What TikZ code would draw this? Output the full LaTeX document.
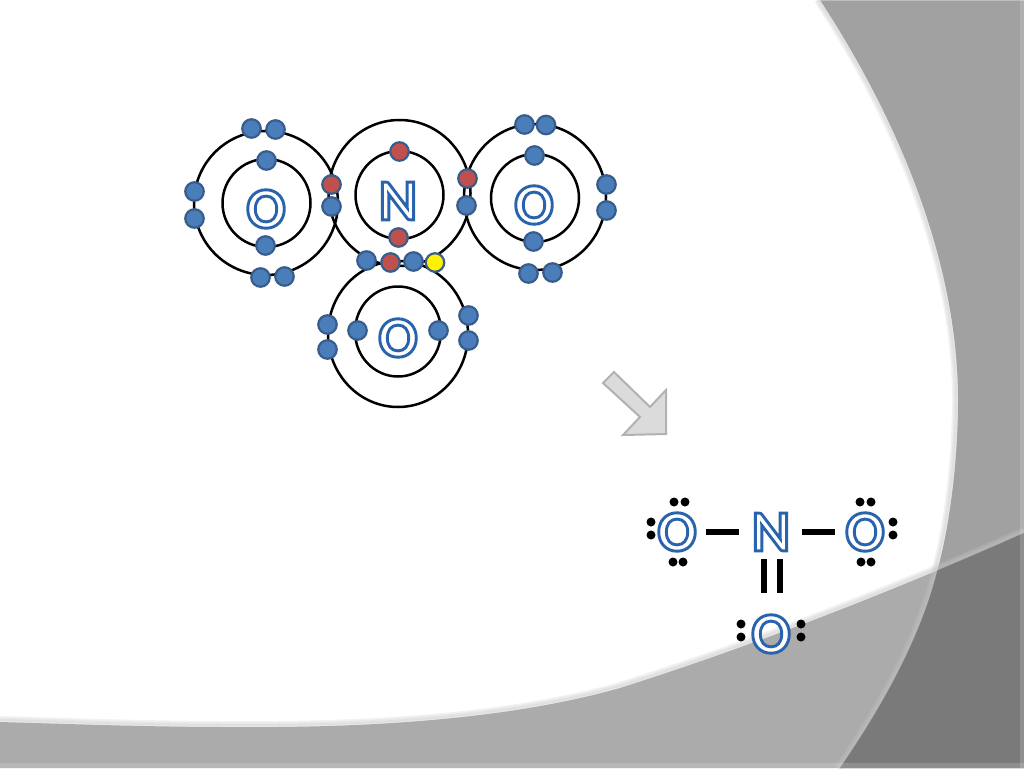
\documentclass[tikz,border=0pt]{standalone}
\usepackage{fontspec}
\setmainfont{Carlito}[BoldFont=Carlito Bold]
\definecolor{elblue}{HTML}{4A7EBB}
\definecolor{elred}{HTML}{C0504D}
\definecolor{elline}{HTML}{385D8A}
\newcommand{\outl}[1]{\special{pdf:code q 2 Tr 2.9 w 0.16 0.39 0.68 RG 1 1 1 rg}#1\special{pdf:code Q}}
\newcommand{\rightedge}{(820,0) .. controls (905,130) and (958,270) .. (958,400) .. controls (958,460) and (950,525) .. (937,572) .. controls (920,640) and (880,710) .. (840,768)}
\newcommand{\lowedge}{(1024,533) .. controls (880,597) and (740,650) .. (620,688) .. controls (500,722) and (350,728) .. (230,727) .. controls (150,727) and (70,724) .. (0,722)}
\tikzset{
  orbit/.style={draw=black,line width=2.5pt,fill=none},
  elec/.style={circle,draw=elline,line width=2.2pt,fill=elblue,minimum size=18.5pt,inner sep=0pt},
  elecr/.style={elec,fill=elred},
  elecy/.style={elec,fill=yellow},
  atomlabel/.style={inner sep=0pt,font=\fontsize{58}{58}\selectfont\bfseries},
  lone/.style={circle,fill=black,minimum size=9pt,inner sep=0pt},
  bond/.style={draw=black,line width=6pt},
  soft/.style={draw=gray!45,line width=#1,opacity=.22},
}
\begin{document}
\begin{tikzpicture}[x=1pt,y=-1pt]
\useasboundingbox (0,0) rectangle (1024,768);
% background
\fill[white] (0,0) rectangle (1024,768);
\foreach \w in {8pt,5pt,2pt}{\draw[soft=\w,yshift=2pt] \lowedge;}
\fill[black!33] \lowedge -- (0,768) -- (1024,768) -- cycle;
\foreach \w in {8pt,5pt,2pt}{\draw[soft=\w,xshift=-2pt] \rightedge;}
\fill[black!37] \rightedge -- (1024,768) -- (1024,0) -- cycle;
\begin{scope}
\clip \rightedge -- (1024,768) -- (1024,0) -- cycle;
\foreach \w in {8pt,5pt,2pt}{\draw[soft=\w,yshift=2pt] \lowedge;}
\fill[black!52] \lowedge -- (0,768) -- (1024,768) -- cycle;
\end{scope}
\fill[white,opacity=.16] (1020,0) rectangle (1024,768);
\fill[white,opacity=.16] (0,763) rectangle (1024,768);
\fill[white,opacity=.3] (820,0) rectangle (1024,1.5);
% orbits
\draw[orbit] (266,203) circle [radius=72];
\draw[orbit] (266.5,203) circle [radius=44];
\draw[orbit] (399.5,193) ellipse [x radius=71,y radius=73];
\draw[orbit] (399.5,195) circle [radius=44];
\draw[orbit] (535,197) ellipse [x radius=71,y radius=73];
\draw[orbit] (535,198) circle [radius=44];
\draw[orbit] (398,334) ellipse [x radius=70,y radius=73];
\draw[orbit] (398,331.5) ellipse [x radius=43,y radius=45];
% electrons
\foreach \n/\p/\s in {a1/{(251.5,128.5)}/elec,a2/{(275.5,129.5)}/elec,a3/{(266.5,160.5)}/elec,a4/{(265.5,245.5)}/elec,a5/{(194.5,191.5)}/elec,a6/{(194.5,218.5)}/elec,a7/{(260.5,277.5)}/elec,a8/{(284.5,276.5)}/elec,a9/{(331.5,184.5)}/elecr,a10/{(331.5,206.5)}/elec,
b1/{(399.5,151.5)}/elecr,b2/{(398.5,237.5)}/elecr,b3/{(467.5,178.5)}/elecr,b4/{(466.5,205.5)}/elec,b5/{(366.5,260.5)}/elec,b6/{(390.5,262.5)}/elecr,b7/{(413.5,261.5)}/elec,b8/{(435,262.5)}/elecy,
c1/{(524.5,124.5)}/elec,c2/{(546,125)}/elec,c3/{(534.5,155.5)}/elec,c4/{(533.5,241.5)}/elec,c5/{(606.5,184.5)}/elec,c6/{(606.5,210.5)}/elec,c7/{(528.5,273.5)}/elec,c8/{(552.5,272.5)}/elec,
d1/{(357.5,330.5)}/elec,d2/{(438.5,330.5)}/elec,d3/{(327.5,324.5)}/elec,d4/{(327.5,349.5)}/elec,d5/{(468.5,315.5)}/elec,d6/{(468.5,340.5)}/elec}
  {\node[\s] (\n) at \p {};}
% shell labels
\node[atomlabel] (sol) at (266,209) {\outl{O}};
\node[atomlabel] (snn) at (398,201) {\outl{N}};
\node[atomlabel] (sor) at (534,205) {\outl{O}};
\node[atomlabel] (sob) at (398,338) {\outl{O}};
% arrow
\draw[fill=black!14,draw=black!30,line width=2pt,line join=miter] (614,372) -- (603,383) -- (640,417) -- (623,435) -- (666,434) -- (666,390) -- (650,407) -- cycle;
% lewis
\node[atomlabel] (lol) at (677,532) {\outl{O}};
\node[atomlabel] (lnn) at (771,532) {\outl{N}};
\node[atomlabel] (lor) at (865,532) {\outl{O}};
\node[atomlabel] (lob) at (771,634) {\outl{O}};
\draw[bond,shorten <=29pt,shorten >=32pt] (lol.center) -- (lnn.center);
\draw[bond,shorten <=31pt,shorten >=30pt] (lnn.center) -- (lor.center);
\draw[bond,shorten <=27pt,shorten >=41pt] ([xshift=-7.5pt]lnn.center) -- ([xshift=-7.5pt]lob.center);
\draw[bond,shorten <=27pt,shorten >=41pt] ([xshift=9pt]lnn.center) -- ([xshift=9pt]lob.center);
\foreach \n/\p in {p1/{(674,502)},p2/{(685,502)},p3/{(651,522)},p4/{(651,535)},p5/{(673,562)},p6/{(683,562)},
p7/{(860,502)},p8/{(871,502)},p9/{(893,522)},p10/{(893,535)},p11/{(861,562)},p12/{(871,562)},
p13/{(741,624)},p14/{(741,637)},p15/{(801,624)},p16/{(801,637)}}
  {\node[lone] (\n) at \p {};}
\end{tikzpicture}
\end{document}
